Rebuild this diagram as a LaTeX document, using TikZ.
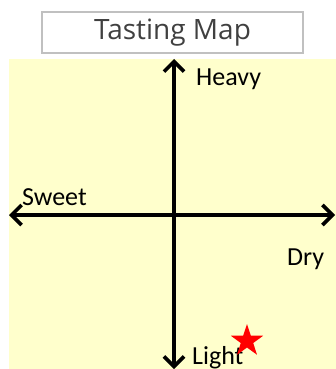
\documentclass[tikz,border=0pt]{standalone}
\usepackage{fontspec}
\setmainfont{Carlito}
\newfontfamily\titlefont{Open Sans}
\usetikzlibrary{arrows.meta,shapes.geometric}
\definecolor{paper}{HTML}{FFFFCC}
\definecolor{boxgrey}{HTML}{C0C0C0}
\definecolor{titlegrey}{HTML}{404040}
\tikzset{
  axis/.style={line width=3.6pt, black, {Straight Barb[length=10pt,width=20pt,line width=3.6pt]}-{Straight Barb[length=10pt,width=20pt,line width=3.6pt]}},
  lbl/.style={font=\fontsize{26}{28}\selectfont, inner sep=0pt, text=black},
}
\begin{document}
\begin{tikzpicture}[x=1pt,y=-1pt]
\useasboundingbox (0,0) rectangle (336,369);
\fill[paper] (9,59) rectangle (336,369);
\node[draw=boxgrey, line width=2pt, minimum width=261pt, minimum height=41pt, inner sep=0pt,
      font=\titlefont\fontsize{28}{30}\selectfont, text=titlegrey] (title) at (172.5,32.5) {Tasting Map};
\coordinate (top) at (174,59);
\coordinate (bottom) at (174,369);
\coordinate (left) at (9,215);
\coordinate (right) at (335,215);
\draw[axis] (bottom) -- (top);
\draw[axis] (left) -- (right);
\node[lbl, anchor=base west] (heavy) at (196,85) {Heavy};
\node[lbl, anchor=base west] (sweet) at (22,205) {Sweet};
\node[lbl, anchor=base west] (dry) at (287,265) {Dry};
\node[lbl, anchor=base west] (light) at (192,364) {Light};
\node[star, star points=5, star point ratio=2.6, fill=red, minimum size=34pt, inner sep=0pt] (star) at (247,341) {};
\end{tikzpicture}
\end{document}
